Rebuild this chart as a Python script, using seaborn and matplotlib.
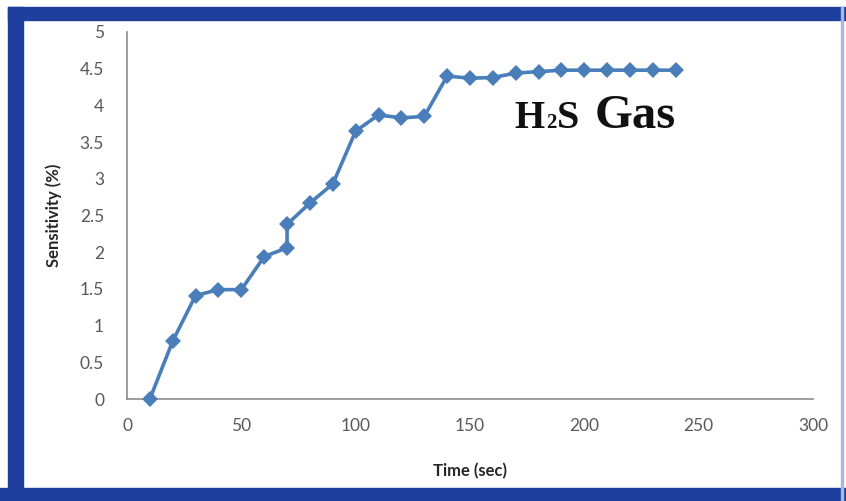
import matplotlib
matplotlib.use("Agg")
import matplotlib.pyplot as plt
import seaborn as sns
import pandas as pd
from matplotlib.patches import Rectangle

# ---- data ----
time_sec = [10, 20, 30, 40, 50, 60, 70, 70, 80, 90, 100, 110, 120, 130,
            140, 150, 160, 170, 180, 190, 200, 210, 220, 230, 240]
sensitivity = [0.0, 0.79, 1.41, 1.49, 1.49, 1.94, 2.06, 2.38, 2.67, 2.93, 3.65, 3.87, 3.83, 3.85,
               4.40, 4.37, 4.38, 4.44, 4.46, 4.48, 4.48, 4.48, 4.48, 4.48, 4.48]
x_ticks = [0, 50, 100, 150, 200, 250, 300]
y_ticks = [0, 0.5, 1, 1.5, 2, 2.5, 3, 3.5, 4, 4.5, 5]
y_tick_labels = ["0", "0.5", "1", "1.5", "2", "2.5", "3", "3.5", "4", "4.5", "5"]
x_label = "Time (sec)"
y_label = "Sensitivity (%)"

df = pd.DataFrame({"time": time_sec, "sens": sensitivity})

sns.set_theme(style="white")
plt.rcParams['font.family'] = ['Lato', 'DejaVu Sans']

W, H = 846, 501
fig = plt.figure(figsize=(W / 100, H / 100), dpi=100)
fig.patch.set_facecolor("white")

# frame border
blue = "#1E3F9E"
def px_rect(x0, y0, x1, y1, color):
    fig.patches.append(Rectangle((x0 / W, 1 - y1 / H), (x1 - x0) / W, (y1 - y0) / H,
                                 transform=fig.transFigure, color=color, zorder=0))
px_rect(8, 7, 846, 20, blue)
px_rect(8, 7, 23, 501, blue)
px_rect(0, 488, 846, 501, blue)
px_rect(841, 7, 843, 501, "#a8b8dc")

ax_l, ax_r, ax_t, ax_b = 127, 813, 32, 399
ax = fig.add_axes([ax_l / W, 1 - ax_b / H, (ax_r - ax_l) / W, (ax_b - ax_t) / H])
ax.set_facecolor("none")

sns.lineplot(data=df, x="time", y="sens", ax=ax, estimator=None, sort=False,
             color="#4A7EBB", linewidth=2.6, marker="D", markersize=8,
             markeredgewidth=0, markerfacecolor="#4A7EBB", clip_on=False, zorder=5)

ax.set_xlim(0, 300)
ax.set_ylim(0, 5)
ax.set_xticks(x_ticks)
ax.set_yticks(y_ticks)
ax.set_yticklabels(y_tick_labels)
ax.tick_params(axis="both", length=0, labelsize=12.5, labelcolor="#595959")
ax.tick_params(axis="y", pad=16.5)
ax.tick_params(axis="x", pad=14)

for s in ["top", "right"]:
    ax.spines[s].set_visible(False)
for s in ["left", "bottom"]:
    ax.spines[s].set_color("#8c8c8c")
    ax.spines[s].set_linewidth(1.2)

ax.set_xlabel(x_label, fontsize=12, fontweight="bold", color="#262626")
ax.set_ylabel(y_label, fontsize=12, fontweight="bold", color="#262626")
ax.xaxis.set_label_coords(0.5, -(463 - ax_b) / (ax_b - ax_t))
ax.yaxis.set_label_coords((62 - ax_l) / (ax_r - ax_l), 0.5)

# "H2S Gas" annotation in figure pixel positions
serif = "Liberation Serif"
base_y = 1 - 128 / H
fig.text(514 / W, base_y, "H", family=serif, fontweight="bold", fontsize=28, va="baseline", ha="left", color="#111111")
fig.text(546 / W, base_y, "2", family=serif, fontweight="bold", fontsize=15, va="baseline", ha="left", color="#111111")
fig.text(557 / W, base_y, "S", family=serif, fontweight="bold", fontsize=29, va="baseline", ha="left", color="#111111")
fig.text(595 / W, base_y, "Gas", family=serif, fontweight="bold", fontsize=35, va="baseline", ha="left", color="#111111")

fig.savefig("out.png", dpi=100, facecolor=fig.get_facecolor())
